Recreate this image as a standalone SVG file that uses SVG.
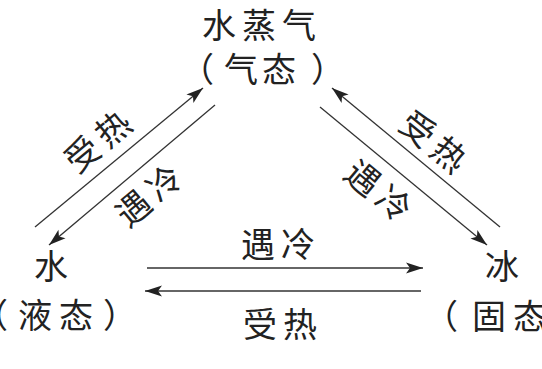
<svg xmlns="http://www.w3.org/2000/svg" width="542" height="369" viewBox="0 0 542 369">
<style>
.t{font-family:"Noto Sans CJK SC","Noto Sans CJK JP",sans-serif;font-size:34px;fill:#222;}
.c{stroke:#333;stroke-width:1.3;fill:none;marker-end:url(#ah);}
</style>
<defs>
<marker id="ah" markerUnits="userSpaceOnUse" markerWidth="20" markerHeight="12" refX="18" refY="6" orient="auto" viewBox="0 0 20 12">
<path d="M18,6 L1,0.5 L5,6 L1,11.5 Z" fill="#222"/>
</marker>
</defs>
<rect width="542" height="369" fill="#fff"/>
<g id="vapor">
<text class="t" x="202 242 282" y="38">水蒸气</text>
<text class="t" x="180 224 262 311" y="82">（气态）</text>
</g>
<g id="water">
<text class="t" x="34" y="279">水</text>
<text class="t" x="-26 18 59 103" y="328">（液态）</text>
</g>
<g id="ice">
<text class="t" x="485" y="279">冰</text>
<text class="t" x="424 472 513" y="329">（固态</text>
</g>
<g id="connectors">
<line class="c" x1="35" y1="227" x2="203" y2="88"/>
<line class="c" x1="215" y1="105" x2="49" y2="245"/>
<line class="c" x1="500" y1="227" x2="332" y2="88"/>
<line class="c" x1="320" y1="107" x2="487" y2="245"/>
<line class="c" x1="147" y1="268" x2="423" y2="268"/>
<line class="c" x1="421" y1="291" x2="145" y2="291"/>
</g>
<g id="labels">
<text class="t" transform="translate(98,142) rotate(-39.6)" x="-37 3" y="12">受热</text>
<text class="t" transform="translate(149,196) rotate(-39.6)" x="-37 3" y="12">遇冷</text>
<text class="t" transform="translate(433,142) rotate(39.6)" x="-37 3" y="12">受热</text>
<text class="t" transform="translate(378,191) rotate(39.6)" x="-37 3" y="12">遇冷</text>
<text class="t" x="241 281" y="257">遇冷</text>
<text class="t" x="243 283" y="337">受热</text>
</g>
</svg>
